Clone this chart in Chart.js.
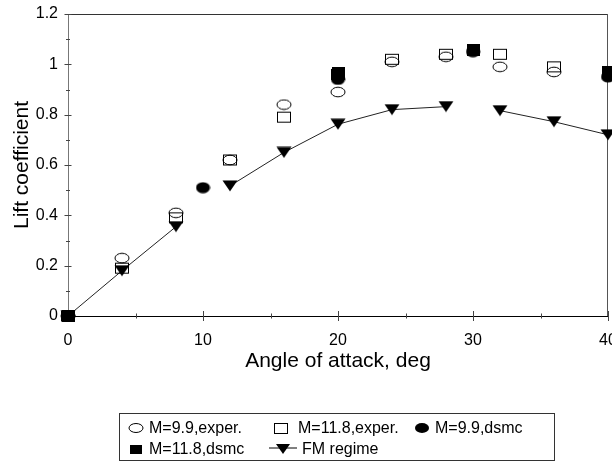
<!DOCTYPE html>
<html>
<head>
<meta charset="utf-8">
<script src="https://cdn.jsdelivr.net/npm/chart.js@4"></script>
<style>
  html, body { margin: 0; padding: 0; background: #fff; }
  #wrap { position: relative; width: 612px; height: 466px; overflow: hidden; }
  #legend {
    position: absolute; left: 119px; top: 413px; width: 436px; height: 48px;
    border: 1px solid #333; box-sizing: border-box; padding: 3px 0 0 8px;
    font-family: "Liberation Sans", Arial, sans-serif; font-size: 16px; color: #000;
    display: grid; grid-template-columns: 141px 145px auto; grid-auto-rows: 21px;
  }
  .item { display: flex; align-items: center; height: 21px; white-space: nowrap; }
  .item svg { margin-right: 5px; }
</style>
</head>
<body>
<div id="wrap">
  <canvas id="lift" width="612" height="466"></canvas>
  <div id="legend">
    <div class="item"><svg width="16" height="12"><ellipse cx="8" cy="6" rx="7" ry="4.5" fill="none" stroke="#000" stroke-width="1"/></svg>M=9.9,exper.</div>
    <div class="item"><svg width="24" height="12"><rect x="5.5" y="1.5" width="13" height="10" fill="none" stroke="#000" stroke-width="1"/></svg>M=11.8,exper.</div>
    <div class="item"><svg width="16" height="12"><ellipse cx="8" cy="6" rx="7" ry="5" fill="#000"/></svg>M=9.9,dsmc</div>
    <div class="item"><svg width="16" height="12"><rect x="2" y="2" width="12" height="9" fill="#000"/></svg>M=11.8,dsmc</div>
    <div class="item"><svg width="28" height="12"><line x1="0" y1="5" x2="28" y2="5" stroke="#000" stroke-width="1"/><path d="M7 1 L21 1 L14 11 Z" fill="#000"/></svg>FM regime</div>
  </div>
</div>
<script>
// angle of attack, deg
const expAngles = [0, 4, 8, 12, 16, 20, 24, 28, 32, 36];
const exp99 = [0, 0.23, 0.41, 0.62, 0.84, 0.89, 1.01, 1.03, 0.99, 0.97];
const exp118 = [0, 0.19, 0.39, 0.62, 0.79, 0.96, 1.02, 1.04, 1.04, 0.99];

const dsmc99Angles = [0, 10, 20, 30, 40];
const dsmc99 = [0, 0.51, 0.94, 1.05, 0.95];
const dsmc118Angles = [0, 20, 30, 40];
const dsmc118 = [0, 0.965, 1.055, 0.97];

// nulls break the line where the original curve has gaps
const fmAngles = [0, 4, 8, 10, 12, 16, 20, 24, 28, 30, 32, 36, 40];
const fmLift = [0, 0.18, 0.355, null, 0.517, 0.65, 0.762, 0.82, 0.832, null, 0.816, 0.772, 0.72];

const xTicks = [0, 10, 20, 30, 40];
const yTicks = [0, 0.2, 0.4, 0.6, 0.8, 1, 1.2];

const FONT = '"Liberation Sans", Arial, sans-serif';

const pairs = (xs, ys) => xs.map((x, i) => ({ x: x, y: ys[i] }));

// marker images
function marker(w, h, draw) {
  const c = document.createElement('canvas');
  c.width = w; c.height = h;
  const ctx = c.getContext('2d');
  draw(ctx, w, h);
  return c;
}
const openEllipse = marker(16, 12, (ctx, w, h) => {
  ctx.strokeStyle = '#000'; ctx.lineWidth = 1;
  ctx.beginPath(); ctx.ellipse(w / 2, h / 2, 7, 4.8, 0, 0, Math.PI * 2); ctx.stroke();
});
const openSquare = marker(16, 13, (ctx) => {
  ctx.strokeStyle = '#000'; ctx.lineWidth = 1;
  ctx.strokeRect(1.5, 1.5, 13, 10);
});
const fillEllipse = marker(15, 12, (ctx, w, h) => {
  ctx.fillStyle = '#000';
  ctx.beginPath(); ctx.ellipse(w / 2, h / 2, 7, 5.5, 0, 0, Math.PI * 2); ctx.fill();
});
const fillSquare = marker(13, 12, (ctx) => {
  ctx.fillStyle = '#000'; ctx.fillRect(0, 0, 13, 12);
});
const downTri = marker(16, 12, (ctx) => {
  ctx.fillStyle = '#000';
  ctx.beginPath(); ctx.moveTo(0.5, 0.5); ctx.lineTo(15.5, 0.5); ctx.lineTo(8, 11.5); ctx.closePath(); ctx.fill();
});

// frame and crossing tick marks
const framePlugin = {
  id: 'frame',
  beforeDatasetsDraw(chart) {
    const { ctx, chartArea: a, scales } = chart;
    ctx.save();
    ctx.lineWidth = 1;
    ctx.strokeStyle = '#333';
    ctx.beginPath(); ctx.moveTo(a.left, a.top + 0.5); ctx.lineTo(a.right, a.top + 0.5); ctx.stroke();
    ctx.strokeStyle = '#555';
    ctx.beginPath(); ctx.moveTo(a.right - 0.5, a.top); ctx.lineTo(a.right - 0.5, a.bottom); ctx.stroke();
    ctx.strokeStyle = '#777';
    ctx.beginPath(); ctx.moveTo(a.left + 0.5, a.top); ctx.lineTo(a.left + 0.5, a.bottom); ctx.stroke();
    ctx.strokeStyle = '#000';
    ctx.beginPath(); ctx.moveTo(a.left, a.bottom + 0.5); ctx.lineTo(a.right, a.bottom + 0.5); ctx.stroke();

    ctx.strokeStyle = '#444';
    scales.y.ticks.forEach((t) => {
      const yp = Math.round(scales.y.getPixelForValue(t.value)) + 0.5;
      const major = yTicks.some((v) => Math.abs(v - t.value) < 1e-6);
      const len = major ? 3.5 : 2;
      ctx.beginPath(); ctx.moveTo(a.left - len, yp); ctx.lineTo(a.left + len, yp); ctx.stroke();
    });
    scales.x.ticks.forEach((t) => {
      const xp = Math.round(scales.x.getPixelForValue(t.value)) + 0.5;
      const major = xTicks.includes(t.value);
      const len = major ? 5 : 2.5;
      ctx.beginPath(); ctx.moveTo(xp, a.bottom - len); ctx.lineTo(xp, a.bottom + len); ctx.stroke();
    });
    ctx.restore();
  }
};

const scatterSet = (label, data, style) => ({
  label: label, data: data, showLine: false, clip: false,
  pointStyle: style, pointRadius: 7, pointHoverRadius: 7,
  borderColor: '#000', backgroundColor: '#000'
});

new Chart(document.getElementById('lift'), {
  type: 'scatter',
  data: {
    datasets: [
      scatterSet('M=9.9,exper.', pairs(expAngles, exp99), openEllipse),
      scatterSet('M=11.8,exper.', pairs(expAngles, exp118), openSquare),
      scatterSet('M=9.9,dsmc', pairs(dsmc99Angles, dsmc99), fillEllipse),
      scatterSet('M=11.8,dsmc', pairs(dsmc118Angles, dsmc118), fillSquare),
      {
        label: 'FM regime', data: pairs(fmAngles, fmLift), showLine: true, spanGaps: false, clip: false,
        borderColor: '#222', borderWidth: 1, backgroundColor: '#000',
        pointStyle: downTri, pointRadius: 7, pointHoverRadius: 7
      }
    ]
  },
  options: {
    responsive: false,
    animation: false,
    events: [],
    layout: { autoPadding: false, padding: { left: 0, right: 4, top: 14, bottom: 89 } },
    plugins: { legend: { display: false }, tooltip: { enabled: false } },
    scales: {
      x: {
        type: 'linear', min: 0, max: 40,
        afterFit: (s) => { s.height = 61; s.paddingLeft = 0; s.paddingRight = 0; },
        grid: { display: false, drawTicks: false },
        border: { display: false },
        ticks: {
          stepSize: 5, autoSkip: false, maxRotation: 0, padding: 15,
          color: '#000', font: { family: FONT, size: 16 },
          callback: (v) => (xTicks.includes(v) ? String(v) : '')
        },
        title: {
          display: true, text: 'Angle of attack, deg', color: '#000',
          font: { family: FONT, size: 21 }, padding: { top: 0, bottom: 3 }
        }
      },
      y: {
        type: 'linear', min: 0, max: 1.2,
        afterFit: (s) => { s.width = 68; s.paddingTop = 0; s.paddingBottom = 0; },
        grid: { display: false, drawTicks: false },
        border: { display: false },
        ticks: {
          stepSize: 0.1, autoSkip: false, padding: 10,
          color: '#000', font: { family: FONT, size: 16 },
          callback: (v) => {
            const r = Math.round(v * 10);
            return r % 2 === 0 ? String(r / 10) : '';
          }
        },
        title: {
          display: true, text: 'Lift coefficient', color: '#000',
          font: { family: FONT, size: 21 }, padding: { top: 10, bottom: 0 }
        }
      }
    }
  },
  plugins: [framePlugin]
});
</script>
</body>
</html>
